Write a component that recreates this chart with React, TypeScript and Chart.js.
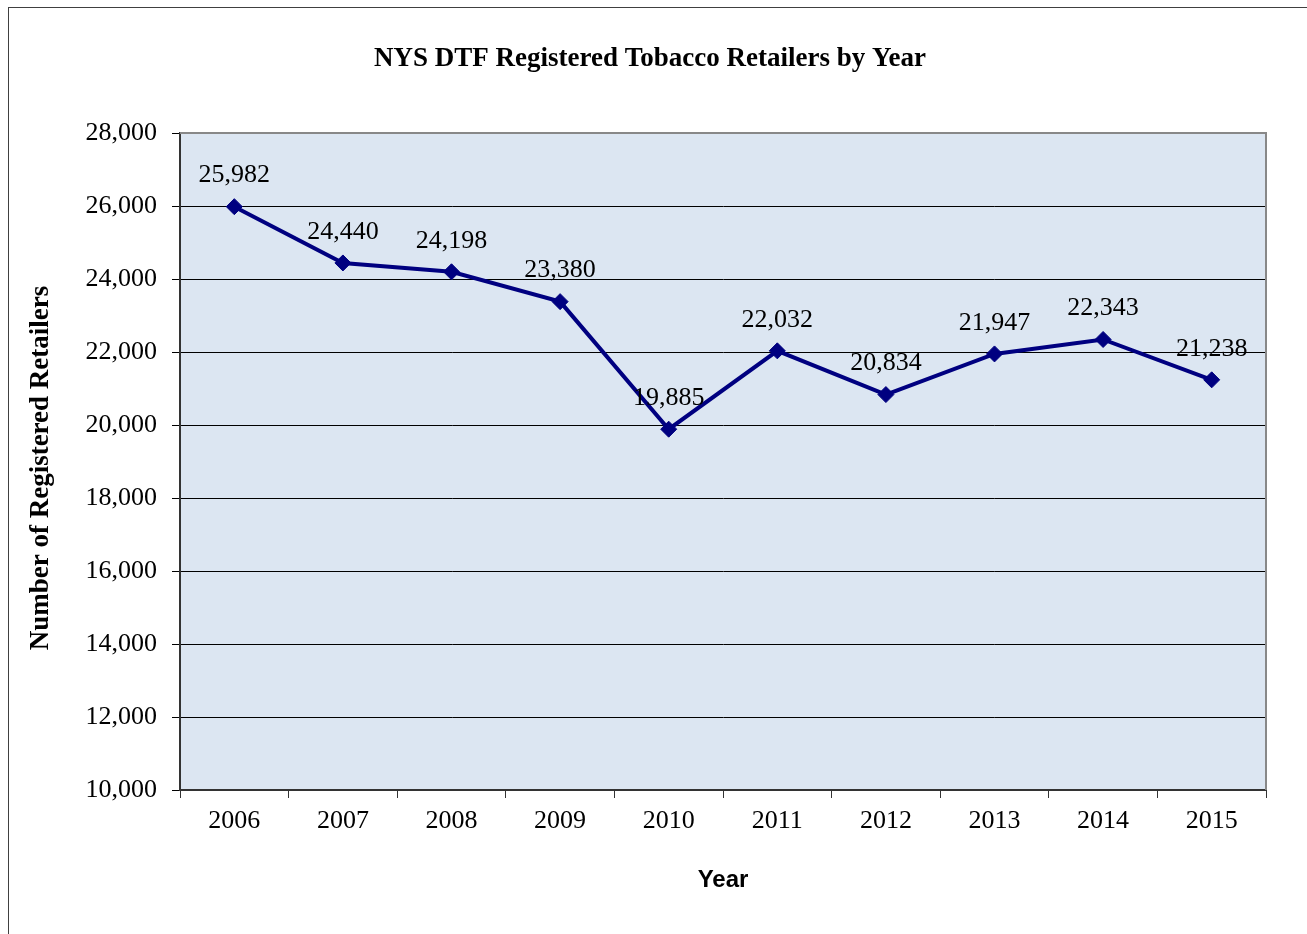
import React, { useEffect, useRef } from "react";
import { Chart, registerables } from "chart.js";

Chart.register(...registerables);

const years = ["2006", "2007", "2008", "2009", "2010", "2011", "2012", "2013", "2014", "2015"];
const retailers = [25982, 24440, 24198, 23380, 19885, 22032, 20834, 21947, 22343, 21238];
const chartTitle = "NYS DTF Registered Tobacco Retailers by Year";
const yTitle = "Number of Registered Retailers";
const xTitle = "Year";

const SERIF = "'Liberation Serif', 'Times New Roman', serif";
const SANS = "'Liberation Sans', Arial, sans-serif";
const fmt = (v: number) => v.toLocaleString("en-US");

const plotDecor = {
  id: "plotDecor",
  beforeDraw(chart: any) {
    const { ctx, chartArea: a } = chart;
    ctx.save();
    ctx.fillStyle = "#DCE6F2";
    ctx.fillRect(a.left, a.top, a.right - a.left, a.bottom - a.top);
    ctx.restore();
  },
  afterDraw(chart: any) {
    const { ctx, chartArea: a } = chart;
    ctx.save();
    ctx.strokeStyle = "#888888";
    ctx.lineWidth = 2;
    ctx.beginPath();
    ctx.moveTo(a.left, a.top);
    ctx.lineTo(a.right, a.top);
    ctx.lineTo(a.right, a.bottom);
    ctx.stroke();
    ctx.fillStyle = "#000";
    ctx.font = `bold 27px ${SERIF}`;
    ctx.textAlign = "center";
    ctx.textBaseline = "middle";
    ctx.fillText(chartTitle, 641, 51);
    // y-axis title
    ctx.translate(32, 460);
    ctx.rotate(-Math.PI / 2);
    ctx.font = `bold 27px ${SERIF}`;
    ctx.fillText(yTitle, 0, 0);
    ctx.restore();
  },
  afterDatasetsDraw(chart: any) {
    const { ctx } = chart;
    const meta = chart.getDatasetMeta(0);
    ctx.save();
    ctx.fillStyle = "#000";
    ctx.font = `26px ${SERIF}`;
    ctx.textAlign = "center";
    ctx.textBaseline = "middle";
    meta.data.forEach((p: any, i: number) => {
      ctx.fillText(fmt(retailers[i]), p.x, p.y - 31);
    });
    ctx.restore();
  },
};

export default function App() {
  const ref = useRef<HTMLCanvasElement>(null);
  useEffect(() => {
    if (!ref.current) return;
    const chart = new Chart(ref.current, {
      type: "line",
      data: {
        labels: years,
        datasets: [
          {
            data: retailers,
            borderColor: "#000080",
            backgroundColor: "#000080",
            borderWidth: 4,
            pointStyle: "rectRot",
            pointRadius: 8,
            pointHoverRadius: 8,
            pointBackgroundColor: "#000080",
            pointBorderColor: "#000080",
            pointBorderWidth: 1,
            tension: 0,
          },
        ],
      },
      options: {
        responsive: false,
        animation: false,
        events: [],
        layout: { padding: { left: 0, top: 125, right: 41, bottom: 0 } },
        plugins: {
          legend: { display: false },
          title: { display: false },
          tooltip: { enabled: false },
        },
        scales: {
          x: {
            offset: true,
            grid: {
              offset: true,
              drawOnChartArea: false,
              drawTicks: true,
              tickLength: 8,
              color: "#333",
            },
            border: { color: "#333", width: 2 },
            ticks: { color: "#000", font: { family: SERIF, size: 26 }, padding: 8, maxRotation: 0 },
            title: {
              display: true,
              text: xTitle,
              color: "#000",
              font: { family: SANS, size: 24, weight: "bold" },
              padding: { top: 0, bottom: 39 },
            },
            afterFit(scale: any) {
              scale.height = 144;
            },
          },
          y: {
            min: 10000,
            max: 28000,
            grid: { color: "#000", lineWidth: 1, tickLength: 8, drawTicks: true },
            border: { color: "#333", width: 2 },
            ticks: {
              stepSize: 2000,
              color: "#000",
              font: { family: SERIF, size: 26 },
              padding: 15,
              callback: (v: any) => fmt(Number(v)),
            },
            title: { display: false },
            afterFit(scale: any) {
              scale.width = 171;
            },
          },
        },
      },
      plugins: [plotDecor],
    } as any);
    return () => chart.destroy();
  }, []);

  return (
    <div
      style={{
        position: "absolute",
        left: 8,
        top: 7,
        width: 1310,
        height: 940,
        border: "1px solid #404040",
        boxSizing: "border-box",
        background: "#fff",
      }}
    >
      <canvas ref={ref} width={1298} height={926} style={{ display: "block" }} />
    </div>
  );
}
